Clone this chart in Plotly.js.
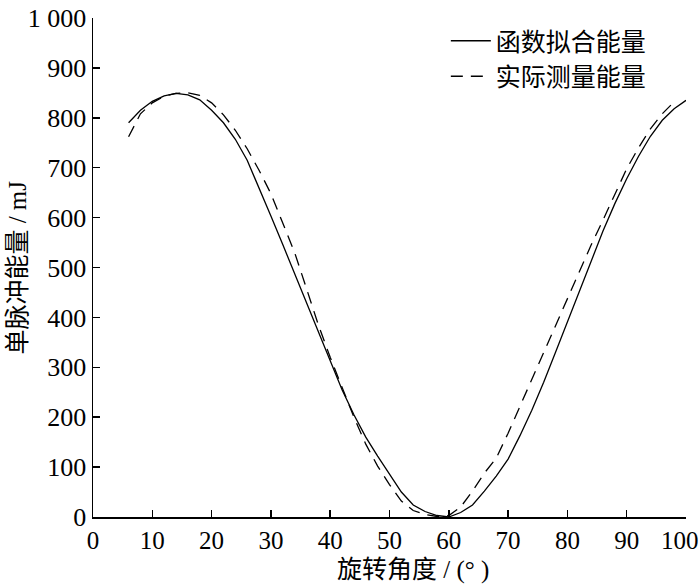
<!DOCTYPE html>
<html>
<head>
<meta charset="utf-8">
<script src="https://cdn.plot.ly/plotly-3.0.1.min.js"></script>
<style>
  html, body { margin: 0; padding: 0; background: #fff; }
  #chart { width: 700px; height: 587px; }
</style>
</head>
<body>
<div id="chart"></div>
<script>
// fitted curve (solid)
var fitAngle = [6, 8, 10, 12, 14, 16, 18, 20, 22, 24, 26, 28, 30, 32, 34, 36, 38, 40, 42, 44, 46, 48, 50,
                52, 54, 56, 58, 60, 62, 64, 66, 68, 70, 72, 74, 76, 78, 80, 82, 84, 86, 88, 90, 92, 94, 96, 98, 100];
var fitEnergy = [790, 815, 833, 844, 849, 846, 836, 815, 790, 757, 715, 660, 603, 546, 488, 428, 372, 313, 255, 205, 160, 122, 85,
                 50, 24, 11, 3, 0, 9, 24, 52, 82, 116, 163, 214, 270, 330, 390, 450, 513, 573, 628, 678, 723, 763, 795, 818, 835];

// measured (dashed)
var measAngle = [6, 8, 10, 12, 14, 16, 18, 20, 22, 24, 26, 28, 30, 32, 34, 36, 38, 40, 42, 44, 46, 48, 50,
                 52, 54, 56, 58, 60, 62, 64, 66, 68, 70, 72, 74, 76, 78, 80, 82, 84, 86, 88, 90, 92, 94, 96, 98];
var measEnergy = [762, 808, 830, 843, 849, 850, 845, 830, 806, 775, 738, 695, 648, 590, 530, 458, 385, 320, 258, 200, 146, 102, 65,
                  32, 13, 5, 1, 3, 20, 52, 88, 118, 168, 222, 276, 330, 382, 436, 490, 545, 595, 648, 698, 740, 778, 808, 832];

var yTicks = [0, 100, 200, 300, 400, 500, 600, 700, 800, 900, 1000];
var yTickText = ['0', '100', '200', '300', '400', '500', '600', '700', '800', '900', '1 000'];
var xTicks = [0, 10, 20, 30, 40, 50, 60, 70, 80, 90, 100];
// last label padded so it stays inside the picture
var xTickText = ['0', '10', '20', '30', '40', '50', '60', '70', '80', '90', '100\u2007'];

var serif = 'Liberation Serif, Times New Roman, Noto Sans CJK SC, serif';

var traces = [
    {
        x: fitAngle,
        y: fitEnergy,
        mode: 'lines',
        name: '函数拟合能量',
        line: {color: '#000', width: 1.3}
    },
    {
        x: measAngle,
        y: measEnergy,
        mode: 'lines',
        name: '实际测量能量',
        line: {color: '#000', width: 1.3, dash: '12px,8px'}
    }
];

var layout = {
    width: 700,
    height: 587,
    margin: {l: 93, r: 14, t: 18, b: 70},
    paper_bgcolor: '#fff',
    plot_bgcolor: '#fff',
    font: {family: serif, size: 26, color: '#000'},
    showlegend: true,
    legend: {
        x: 0.595, y: 1.0, xanchor: 'left', yanchor: 'top',
        bgcolor: 'rgba(0,0,0,0)',
        font: {family: 'Noto Sans CJK SC, sans-serif', size: 25, color: '#000'},
        itemwidth: 40,
        tracegroupgap: 0
    },
    xaxis: {
        range: [0, 100],
        tickvals: xTicks,
        ticktext: xTickText,
        ticks: 'inside',
        ticklen: 7,
        tickwidth: 1.5,
        tickcolor: '#000',
        showline: true,
        linecolor: '#000',
        linewidth: 1.5,
        showgrid: false,
        zeroline: false,
        ticklabeloverflow: 'allow',
        tickfont: {family: serif, size: 25}
    },
    yaxis: {
        range: [0, 1000],
        tickvals: yTicks,
        ticktext: yTickText,
        ticks: 'inside',
        ticklen: 7,
        tickwidth: 1.5,
        tickcolor: '#000',
        showline: true,
        linecolor: '#000',
        linewidth: 1.5,
        showgrid: false,
        zeroline: false,
        ticklabeloverflow: 'allow',
        tickfont: {family: serif, size: 26}
    },
    annotations: [
        {
            text: '旋转角度 / (° )',
            xref: 'paper', yref: 'paper',
            x: 0.54, y: 0, xanchor: 'center', yanchor: 'middle',
            yshift: -53, showarrow: false,
            font: {family: serif, size: 25}
        },
        {
            text: '单脉冲能量 / mJ',
            xref: 'paper', yref: 'paper',
            x: -0.128, y: 0.5, xanchor: 'center', yanchor: 'middle',
            textangle: -90, showarrow: false,
            font: {family: serif, size: 25}
        }
    ]
};

Plotly.newPlot('chart', traces, layout, {staticPlot: true});
</script>
</body>
</html>
